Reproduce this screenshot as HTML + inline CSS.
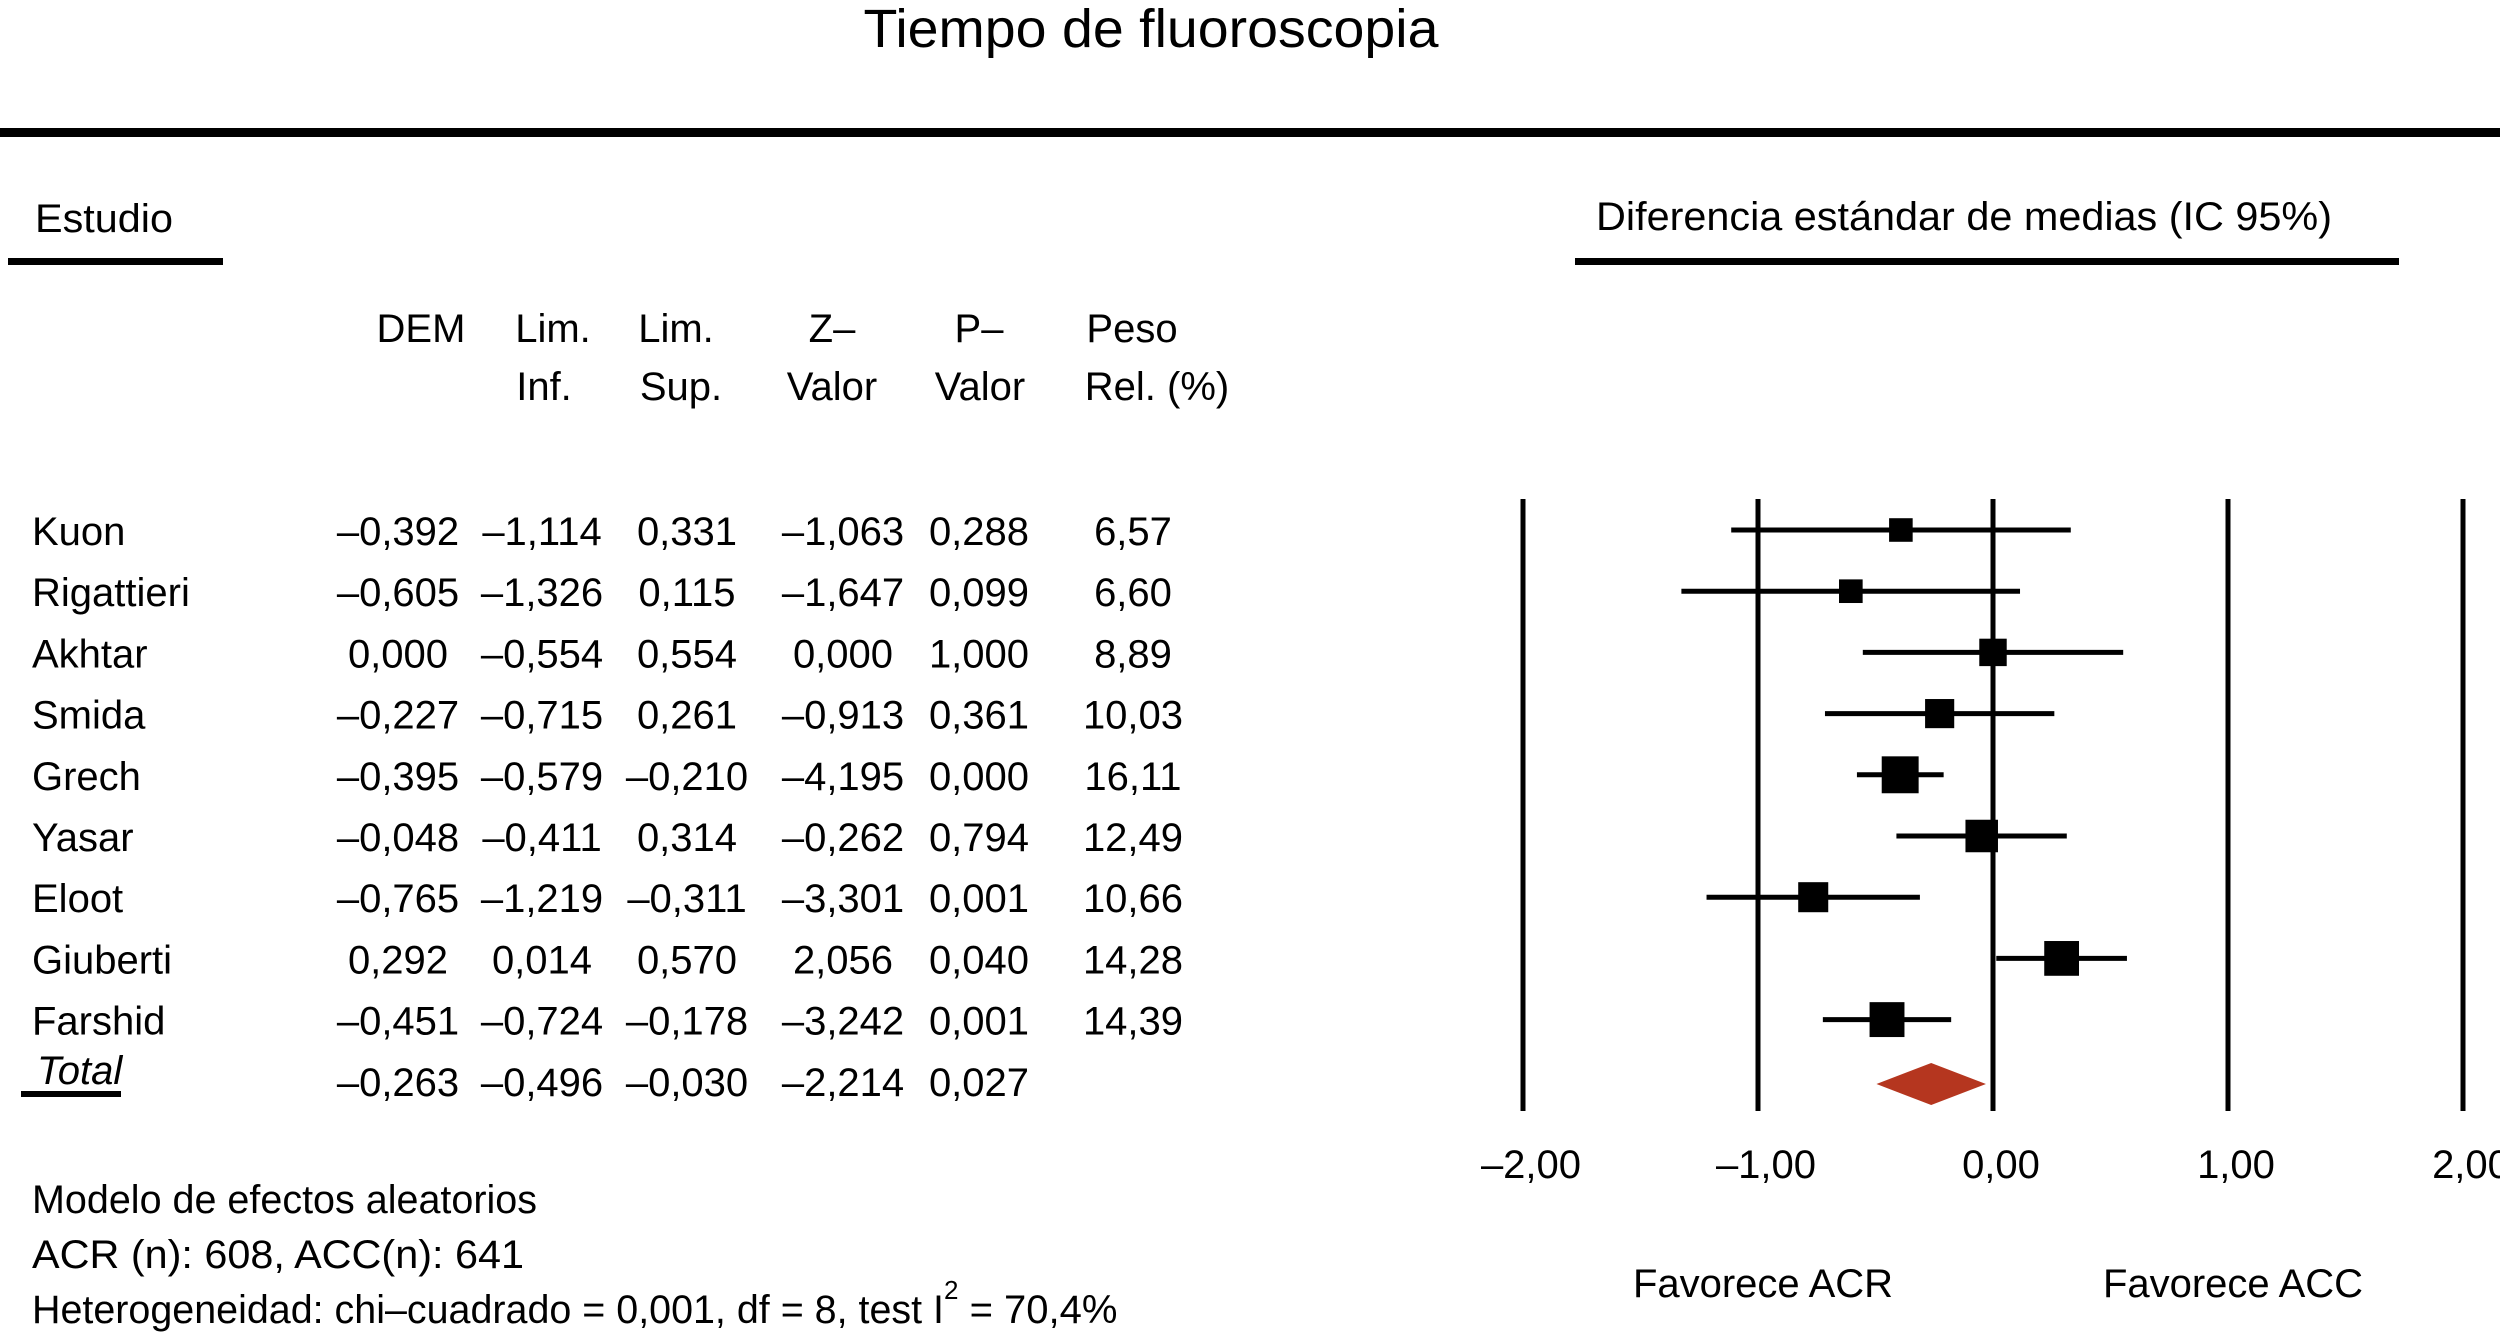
<!DOCTYPE html>
<html><head><meta charset="utf-8">
<style>
html,body{margin:0;padding:0;background:#fff;}
svg{display:block;font-family:"Liberation Sans",Arial,sans-serif;}
text{fill:#000;}
</style></head>
<body>
<svg id="chart" width="2500" height="1343" viewBox="0 0 2500 1343">
<rect width="2500" height="1343" fill="#fff"/>
<text x="1151" y="47" font-size="54" text-anchor="middle" textLength="575" lengthAdjust="spacingAndGlyphs">Tiempo de fluoroscopia</text>
<rect x="0" y="128" width="2500" height="9" fill="#000"/>
<text x="35" y="232" font-size="40" textLength="138" lengthAdjust="spacingAndGlyphs">Estudio</text>
<rect x="8" y="258" width="215" height="7" fill="#000"/>
<text x="1596" y="230" font-size="40" textLength="736" lengthAdjust="spacingAndGlyphs">Diferencia estándar de medias (IC 95%)</text>
<rect x="1575" y="258" width="824" height="7" fill="#000"/>
<g font-size="40" text-anchor="middle">
<text x="421" y="342">DEM</text>
<text x="553" y="342">Lim.</text>
<text x="544" y="400">Inf.</text>
<text x="676" y="342">Lim.</text>
<text x="681" y="400">Sup.</text>
<text x="832" y="342">Z–</text>
<text x="832" y="400">Valor</text>
<text x="979" y="342">P–</text>
<text x="980" y="400">Valor</text>
<text x="1132" y="342">Peso</text>
<text x="1157" y="400">Rel. (%)</text>
</g>
<g id="table"></g>
<g id="plot"></g>
<text x="1763" y="1297" font-size="40" text-anchor="middle">Favorece ACR</text>
<text x="2233" y="1297" font-size="40" text-anchor="middle">Favorece ACC</text>
<text x="32" y="1213" font-size="40" textLength="505" lengthAdjust="spacingAndGlyphs">Modelo de efectos aleatorios</text>
<text x="32" y="1268" font-size="40" textLength="492" lengthAdjust="spacingAndGlyphs">ACR (n):  608, ACC(n):  641</text>
<text x="32" y="1323" font-size="40"><tspan textLength="912" lengthAdjust="spacingAndGlyphs">Heterogeneidad: chi–cuadrado = 0,001, df = 8, test I</tspan><tspan font-size="26" dy="-24">2</tspan><tspan dy="24"> = 70,4%</tspan></text>
</svg>
<script>
const studies = ["Kuon","Rigattieri","Akhtar","Smida","Grech","Yasar","Eloot","Giuberti","Farshid"];
const smd = [-0.392,-0.605,0.000,-0.227,-0.395,-0.048,-0.765,0.292,-0.451];
const lower = [-1.114,-1.326,-0.554,-0.715,-0.579,-0.411,-1.219,0.014,-0.724];
const upper = [0.331,0.115,0.554,0.261,-0.210,0.314,-0.311,0.570,-0.178];
const zValues = ["–1,063","–1,647","0,000","–0,913","–4,195","–0,262","–3,301","2,056","–3,242"];
const pValues = ["0,288","0,099","1,000","0,361","0,000","0,794","0,001","0,040","0,001"];
const weights = [6.57,6.60,8.89,10.03,16.11,12.49,10.66,14.28,14.39];
const total = [-0.263,-0.496,-0.030];
const totalZ = "–2,214";
const totalP = "0,027";
const ticks = [-2,-1,0,1,2];
const tickLabels = ["–2,00","–1,00","0,00","1,00","2,00"];

const NS="http://www.w3.org/2000/svg";
const xScale = v => 1993 + v*235;
const rowY = i => 530 + i*61.2;
const fmt3 = v => (v<0?"–":"") + Math.abs(v).toFixed(3).replace(".",",");
const fmt2 = v => v.toFixed(2).replace(".",",");
function mk(tag, attrs, parent){const e=document.createElementNS(NS,tag);for(const k in attrs)e.setAttribute(k,attrs[k]);parent.appendChild(e);return e;}

const table=document.getElementById('table');
const plot=document.getElementById('plot');
const cols=[398,542,687,843,979,1133];

function textAt(x,y,s,anchor){
  const t=mk('text',{x:x,y:y,'font-size':40,'text-anchor':anchor},table);
  t.textContent=s;return t;
}
studies.forEach((s,i)=>{
  const y=rowY(i)+15;
  const n=textAt(32,y,s,'start');
  
  
  const vals=[fmt3(smd[i]),fmt3(lower[i]),fmt3(upper[i]),zValues[i],pValues[i],fmt2(weights[i])];
  vals.forEach((v,j)=>{
    const t=textAt(cols[j],y,v,'middle');
    
    
  });
});
const ty=rowY(9)+15;
const tl=mk('text',{x:37,y:ty-12,'font-size':40,'font-style':'italic'},table);
tl.textContent="Total";


const tu=mk('rect',{x:21,y:1091,width:100,height:6,fill:'#000'},table);


[fmt3(total[0]),fmt3(total[1]),fmt3(total[2]),totalZ,totalP].forEach((v,j)=>{
  const t=textAt(cols[j],ty,v,'middle');
  
  
});

ticks.forEach((v,i)=>{
  const l=mk('line',{x1:xScale(v),x2:xScale(v),y1:499,y2:1111,stroke:'#000','stroke-width':5},plot);
  
  
  const t=mk('text',{x:xScale(v)+8,y:1178,'font-size':40,'text-anchor':'middle'},plot);
  t.textContent=tickLabels[i];
  
  
});
studies.forEach((s,i)=>{
  const y=rowY(i);
  const l=mk('line',{x1:xScale(lower[i]),x2:xScale(upper[i]),y1:y,y2:y,stroke:'#000','stroke-width':5},plot);
  
  
  const sz=9.2*Math.sqrt(weights[i]);
  const r=mk('rect',{x:xScale(smd[i])-sz/2,y:y-sz/2,width:sz,height:sz,fill:'#000'},plot);
  
  
});
const dy=1084,h=21;
const d=mk('polygon',{points:`${xScale(total[1])},${dy} ${xScale(total[0])},${dy-h} ${xScale(total[2])},${dy} ${xScale(total[0])},${dy+h}`,fill:'#b5361f'},plot);


</script>
</body></html>
